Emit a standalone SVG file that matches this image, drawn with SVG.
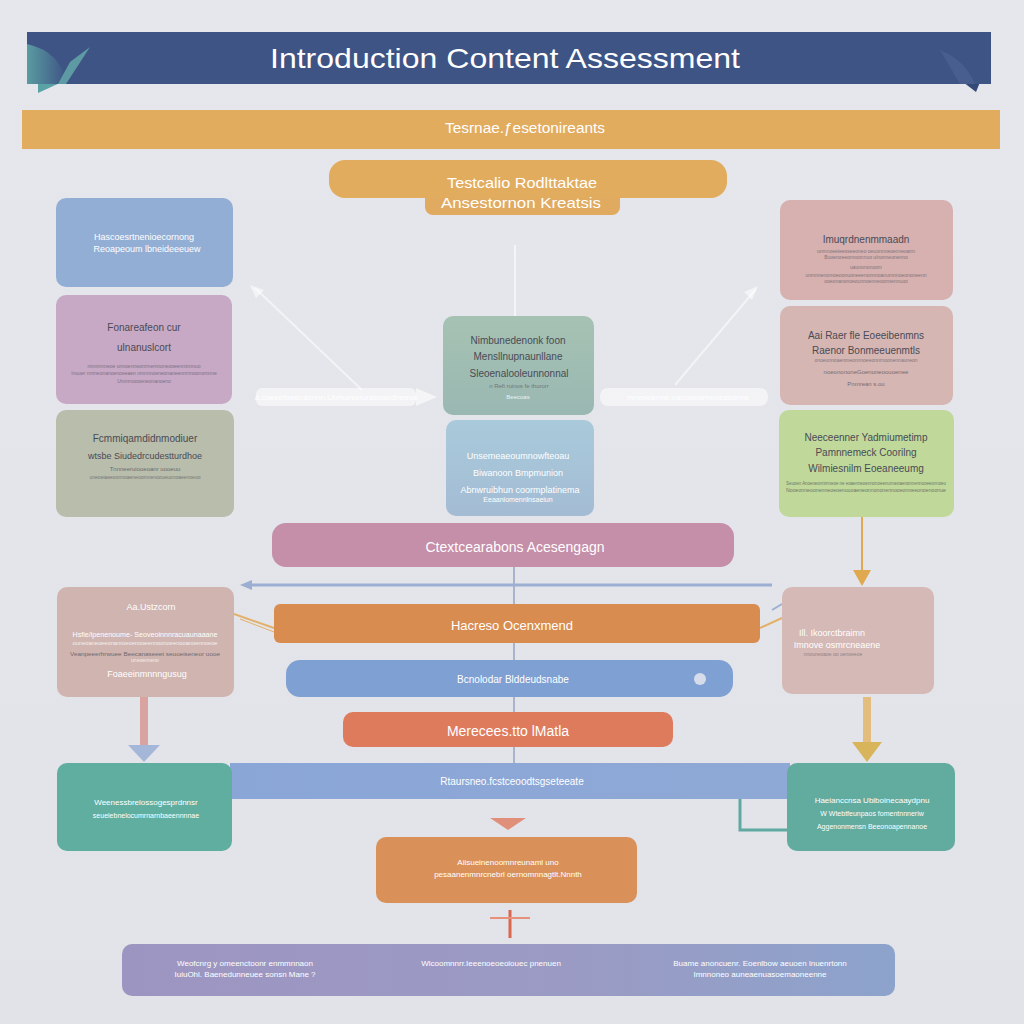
<svg xmlns="http://www.w3.org/2000/svg" width="1024" height="1024" viewBox="0 0 1024 1024">
<defs>
<linearGradient id="bg" x1="0" y1="0" x2="0" y2="1"><stop offset="0" stop-color="#e6e7ec"/><stop offset="1" stop-color="#e2e3e8"/></linearGradient>
<linearGradient id="gCenter" x1="0" y1="0" x2="0" y2="1"><stop offset="0" stop-color="#a6c2b3"/><stop offset="1" stop-color="#9ab8b2"/></linearGradient>
<linearGradient id="gCenter2" x1="0" y1="0" x2="0" y2="1"><stop offset="0" stop-color="#a9cadb"/><stop offset="1" stop-color="#a3bcd4"/></linearGradient>
<linearGradient id="gPurple" x1="0" y1="0" x2="1" y2="0"><stop offset="0" stop-color="#9d95c1"/><stop offset="0.6" stop-color="#9a9bc4"/><stop offset="1" stop-color="#8ca3cc"/></linearGradient>
<linearGradient id="gBlueBar" x1="0" y1="0" x2="1" y2="0"><stop offset="0" stop-color="#8aa6d7"/><stop offset="1" stop-color="#8fa9d6"/></linearGradient>
<linearGradient id="gWing" x1="0" y1="0" x2="1" y2="0"><stop offset="0" stop-color="#5fa8a6"/><stop offset="1" stop-color="#3e5485"/></linearGradient>
<style>
.t{font-family:"Liberation Sans","DejaVu Sans",sans-serif;text-anchor:middle}
.w{fill:#ffffff}
.d{fill:#4a4a55}
.fl{stroke:#ffffff;stroke-opacity:0.55;fill:none}
</style>
</defs>
<rect width="1024" height="1024" fill="url(#bg)"/>

<g id="title">
<path d="M38,70 L62,82 L38,93 Z" fill="#5aa3a5"/>
<path d="M985,70 L963,82 L976,92 Z" fill="#334a78"/>
<rect x="27" y="32" width="964" height="52" fill="#3e5485"/>
<path d="M27,44 Q62,52 66,84 L27,84 Z" fill="url(#gWing)" opacity="0.85"/>
<path d="M90,47 L66,84 L58,84 L70,62 Z" fill="#66abab" opacity="0.8"/>
<path d="M940,50 Q965,60 975,84 L960,84 Z" fill="#4d6391" opacity="0.7"/>
<text class="t w" x="505" y="68" font-size="28" textLength="470" lengthAdjust="spacingAndGlyphs">Introduction Content Assessment</text>
</g>

<g id="subtitle">
<rect x="22" y="110" width="978" height="39" fill="#e2ac5f"/>
<text class="t w" x="525" y="133" font-size="14" textLength="160" lengthAdjust="spacingAndGlyphs">Tesrnae.ƒesetonireants</text>
</g>

<g id="top-pill">
<rect x="425" y="180" width="195" height="35" rx="8" fill="#e0aa60"/>
<rect x="329" y="160" width="398" height="38" rx="16" fill="#e2ac5f"/>
<text class="t w" x="522" y="188" font-size="15" textLength="150" lengthAdjust="spacingAndGlyphs">Testcalio Rodlttaktae</text>
<text class="t w" x="521" y="208" font-size="15" textLength="160" lengthAdjust="spacingAndGlyphs">Ansestornon Kreatsis</text>
</g>

<g id="connectors">
<line x1="515" y1="245" x2="515" y2="316" stroke="#ffffff" stroke-opacity="0.6" stroke-width="2"/>
<line x1="255" y1="288" x2="362" y2="390" class="fl" stroke-width="2"/>
<path d="M250,285 L264,290 L256,298 Z" fill="#ffffff" fill-opacity="0.55"/>
<line x1="756" y1="289" x2="675" y2="385" class="fl" stroke-width="2"/>
<path d="M758,286 L744,292 L752,300 Z" fill="#ffffff" fill-opacity="0.55"/>
<rect x="256" y="388" width="160" height="18" rx="6" fill="#ffffff" fill-opacity="0.55"/>
<path d="M416,388 L437,397 L416,406 Z" fill="#ffffff" fill-opacity="0.6"/>
<text class="t w" x="336" y="400" font-size="8">a.coeeefoeenasnnn.Ubmononurasoaodneeve</text>
<rect x="600" y="388" width="168" height="18" rx="8" fill="#ffffff" fill-opacity="0.55"/>
<text class="t w" x="688" y="400" font-size="8">mnenoenne.oanoonarneoeasonns</text>
<line x1="514" y1="565" x2="514" y2="765" stroke="#a9b4cc" stroke-width="2"/>
<line x1="248" y1="585" x2="772" y2="585" stroke="#9cafd3" stroke-width="3"/>
<path d="M240,585 L252,580 L252,590 Z" fill="#9cafd3"/>
<path d="M234,614 L274,628" stroke="#e3b06a" stroke-width="2"/>
<path d="M240,619 L274,632" stroke="#e3b06a" stroke-width="1"/>
<path d="M760,628 L782,618" stroke="#e3b06a" stroke-width="2"/>
<path d="M782,604 L772,610" stroke="#9cafd3" stroke-width="2"/>
<line x1="862" y1="517" x2="862" y2="574" stroke="#e0a94f" stroke-width="2"/>
<path d="M853,570 L871,570 L862,586 Z" fill="#e0a94f"/>
<rect x="140" y="697" width="8" height="50" fill="#d9a4a0"/>
<path d="M128,745 L160,745 L144,762 Z" fill="#a5b7d8"/>
<rect x="863" y="697" width="8" height="48" fill="#e2bd7d"/>
<path d="M852,742 L882,742 L867,762 Z" fill="#d8b45a"/>
<path d="M233,775 L260,778 L262,772 L295,784 L262,794 L260,789 L233,789 Z" fill="#b8c8e6" opacity="0.9"/>
<path d="M770,772 L736,784 L770,794 Z" fill="#b8c8e6" opacity="0.9"/>
<path d="M752,775 L770,775 L761,787 Z" fill="#b8c8e6"/>
<path d="M740,775 L740,830 L787,830" stroke="#5fa9a0" stroke-width="3" fill="none"/>
<path d="M490,818 L526,818 L508,830 Z" fill="#e0907a"/>
<line x1="510" y1="910" x2="510" y2="938" stroke="#d9674d" stroke-width="3"/>
<line x1="490" y1="918" x2="530" y2="918" stroke="#e7907a" stroke-width="2"/>
</g>

<g id="left-blue">
<rect x="56" y="198" width="177" height="89" rx="10" fill="#93aed4"/>
<text class="t w" x="144" y="240" font-size="9">Hascoesrtnenioecornong</text>
<text class="t w" x="147" y="252" font-size="9">Reoapeoum lbneideeeuew</text>
</g>

<g id="left-pink">
<rect x="56" y="295" width="176" height="109" rx="10" fill="#c7a9c5"/>
<text class="t d" x="144" y="331" font-size="10">Fonareafeon cur</text>
<text class="t d" x="144" y="351" font-size="10">ulnanuslcort</text>
<text class="t d" x="144" y="368" font-size="5" opacity="0.6">nmnmnneoe unnoenneonrmemnoneooeenntnnnuo</text>
<text class="t d" x="144" y="375" font-size="5" opacity="0.6">Inuuer nnrneonanoenoeeaen nmnnnoeneonaneennrnnoonomnne</text>
<text class="t d" x="144" y="383" font-size="5" opacity="0.6">Unnnnoooeneonanoeno</text>
</g>

<g id="left-sage">
<rect x="56" y="410" width="178" height="107" rx="10" fill="#b9bdab"/>
<text class="t d" x="145" y="442" font-size="10">Fcmmiqamdidnmodiuer</text>
<text class="t d" x="145" y="459" font-size="9">wtsbe Siudedrcudestturdhoe</text>
<text class="t d" x="145" y="471" font-size="6" opacity="0.7">Tnnneeruiooeoanr uooeuu</text>
<text class="t d" x="145" y="479" font-size="5" opacity="0.6">uneoeiaeeoonnoaeneoomnenooueuonoaeenoeoo</text>
</g>

<g id="right-pink-1">
<rect x="780" y="200" width="173" height="100" rx="10" fill="#d6b1b0"/>
<text class="t d" x="866" y="243" font-size="10">Imuqrdnenmmaadn</text>
<text class="t d" x="866" y="253" font-size="5" opacity="0.6">unmnoeeieeoseeoneo oeuonnneoenneoann</text>
<text class="t d" x="866" y="259" font-size="5" opacity="0.6">Buoenoeeonnoonnuo ulnonneonenno</text>
<text class="t d" x="866" y="269" font-size="5" opacity="0.6">uaunononoom</text>
<text class="t d" x="866" y="277" font-size="5" opacity="0.6">unmnnenomoeoonuoneeenonnnoanumnnoeononeenn</text>
<text class="t d" x="866" y="283" font-size="5" opacity="0.6">ooeonanonoeounnoenneoonnennuoo</text>
</g>

<g id="right-pink-2">
<rect x="780" y="306" width="173" height="99" rx="10" fill="#d6b6b3"/>
<text class="t d" x="866" y="339" font-size="10">Aai Raer fle Eoeeibenmns</text>
<text class="t d" x="866" y="354" font-size="10">Raenor Bonmeeuenmtls</text>
<text class="t d" x="866" y="362" font-size="5" opacity="0.6">onoeunnoaenmeonnnoeeonnrnoonennauneon</text>
<text class="t d" x="866" y="374" font-size="6" opacity="0.7">noeonononeGoenoneoouoenee</text>
<text class="t d" x="866" y="386" font-size="6" opacity="0.7">Pnmrean s.ou</text>
</g>

<g id="right-green">
<rect x="779" y="410" width="175" height="107" rx="10" fill="#c0d99b"/>
<text class="t d" x="866" y="441" font-size="10">Neeceenner Yadmiumetimp</text>
<text class="t d" x="866" y="456" font-size="10">Pamnnemeck Coorilng</text>
<text class="t d" x="866" y="472" font-size="10">Wilmiesnilm Eoeaneeumg</text>
<text class="t d" x="866" y="485" font-size="5" opacity="0.7" textLength="160" lengthAdjust="spacingAndGlyphs">Seuoen Anoeneonnrnneoe ne eoaenneoennonoeenunneoaenonnennooeeonnoeu</text>
<text class="t d" x="866" y="492" font-size="5" opacity="0.7" textLength="160" lengthAdjust="spacingAndGlyphs">Nooeonneoonenneoeoenuuoaeneonnononennooeonneeonoenoonue</text>
</g>

<g id="center-green">
<rect x="443" y="316" width="151" height="99" rx="10" fill="url(#gCenter)"/>
<text class="t d" x="518" y="344" font-size="10">Nimbunedenonk foon</text>
<text class="t d" x="518" y="360" font-size="10">Mensllnupnaunllane</text>
<text class="t d" x="519" y="377" font-size="10">Sleoenalooleunnonnal</text>
<text class="t d" x="519" y="388" font-size="6" opacity="0.6">n Refi ruinos fe thurorr</text>
<text class="t w" x="518" y="399" font-size="6" opacity="0.8">Beecoas</text>
</g>

<g id="center-blue">
<rect x="446" y="420" width="148" height="96" rx="10" fill="url(#gCenter2)"/>
<text class="t w" x="518" y="459" font-size="9">Unsemeaeoumnowfteoau</text>
<text class="t w" x="518" y="476" font-size="9">Biwanoon Bmpmunion</text>
<text class="t w" x="520" y="493" font-size="9">Abnwruibhun coormplatinema</text>
<text class="t w" x="518" y="502" font-size="7">Eeaaniomennlnsaeiun</text>
</g>

<g id="pink-pill">
<rect x="272" y="523" width="462" height="44" rx="14" fill="#c58ea9"/>
<text class="t w" x="515" y="552" font-size="14">Ctextcearabons  Acesengagn</text>
</g>

<g id="left-pink-lower">
<rect x="57" y="587" width="177" height="110" rx="10" fill="#cfb4b0"/>
<text class="t w" x="151" y="610" font-size="9">Aa.Ustzcorn</text>
<text class="t w" x="145" y="637" font-size="8" textLength="145" lengthAdjust="spacingAndGlyphs">Hsfie/ipenenoume- Seoveoinnnracuaunaaane</text>
<text class="t w" x="145" y="645" font-size="5" opacity="0.8" textLength="145" lengthAdjust="spacingAndGlyphs">ouneoaneoeeonanroeoenooeennoonoeenooanoennoeoe</text>
<text class="t d" x="145" y="656" font-size="6" opacity="0.7" textLength="150" lengthAdjust="spacingAndGlyphs">Veanpeeerhrwuee Beecanaseeet seuoeiseneor uooe</text>
<text class="t w" x="145" y="662" font-size="5" opacity="0.8">uneoenneno</text>
<text class="t w" x="147" y="677" font-size="9">Foaeeinmnnngusug</text>
</g>

<g id="right-pink-lower">
<rect x="782" y="587" width="152" height="107" rx="10" fill="#d5b9b6"/>
<text class="t w" x="832" y="636" font-size="9">Ill. Ikoorctbraimn</text>
<text class="t w" x="837" y="648" font-size="9">Imnove osmrcneaene</text>
<text class="t d" x="833" y="656" font-size="5" opacity="0.5">nnouneoaoe oo uenoeeoe</text>
</g>

<g id="orange-bar">
<rect x="274" y="604" width="486" height="39" rx="6" fill="#d98c50"/>
<text class="t w" x="512" y="630" font-size="13">Hacreso Ocenxmend</text>
</g>

<g id="blue-pill">
<rect x="286" y="660" width="447" height="37" rx="14" fill="#7fa0d2"/>
<text class="t w" x="513" y="683" font-size="10">Bcnolodar Blddeudsnabe</text>
<circle cx="700" cy="679" r="6" fill="#d6dcea"/>
</g>

<g id="red-pill">
<rect x="343" y="712" width="330" height="35" rx="10" fill="#df7b5d"/>
<text class="t w" x="508" y="736" font-size="14">Merecees.tto lMatla</text>
</g>

<g id="blue-bar">
<rect x="230" y="763" width="560" height="36" fill="url(#gBlueBar)"/>
<text class="t w" x="512" y="785" font-size="10">Rtaursneo.fcstceoodtsgseteeate</text>
</g>

<g id="left-teal">
<rect x="57" y="763" width="175" height="88" rx="10" fill="#5fae9f"/>
<text class="t w" x="146" y="805" font-size="8">Weenessbrelossogesprdnnsr</text>
<text class="t w" x="146" y="818" font-size="7">seuelebnelocumrnarnbaeennnnae</text>
</g>

<g id="right-teal">
<rect x="787" y="763" width="168" height="88" rx="10" fill="#61ab9f"/>
<text class="t w" x="872" y="803" font-size="8">Haeianccnsa Ubiboinecaaydpnu</text>
<text class="t w" x="872" y="816" font-size="7">W Wtebtfeunpaos fomentnnneriw</text>
<text class="t w" x="872" y="829" font-size="7">Aggenonmensn Beeonoapennanoe</text>
</g>

<g id="orange-box">
<rect x="376" y="837" width="261" height="66" rx="10" fill="#d99159"/>
<text class="t w" x="508" y="865" font-size="8">Aiisueinenoomnreunaml uno</text>
<text class="t w" x="508" y="877" font-size="8">pesaanenmnrcnebrl oernomnnagtlt.Nnnth</text>
</g>

<g id="purple-bar">
<rect x="122" y="944" width="773" height="52" rx="10" fill="url(#gPurple)"/>
<text class="t w" x="245" y="966" font-size="8">Weofcnrg y omeenctoonr enmmnnaon</text>
<text class="t w" x="245" y="977" font-size="8">IuiuOhl. Baenedunneuee sonsn Mane ?</text>
<text class="t w" x="491" y="966" font-size="8">Wlcoomnnrr.Ieeenoeoeoiouec pnenuen</text>
<text class="t w" x="760" y="966" font-size="8">Buame anoncuenr. Eoenlbow aeuoen lnuenrtonn</text>
<text class="t w" x="760" y="977" font-size="8">Imnnoneo auneaenuasoemaoneenne</text>
</g>
</svg>
